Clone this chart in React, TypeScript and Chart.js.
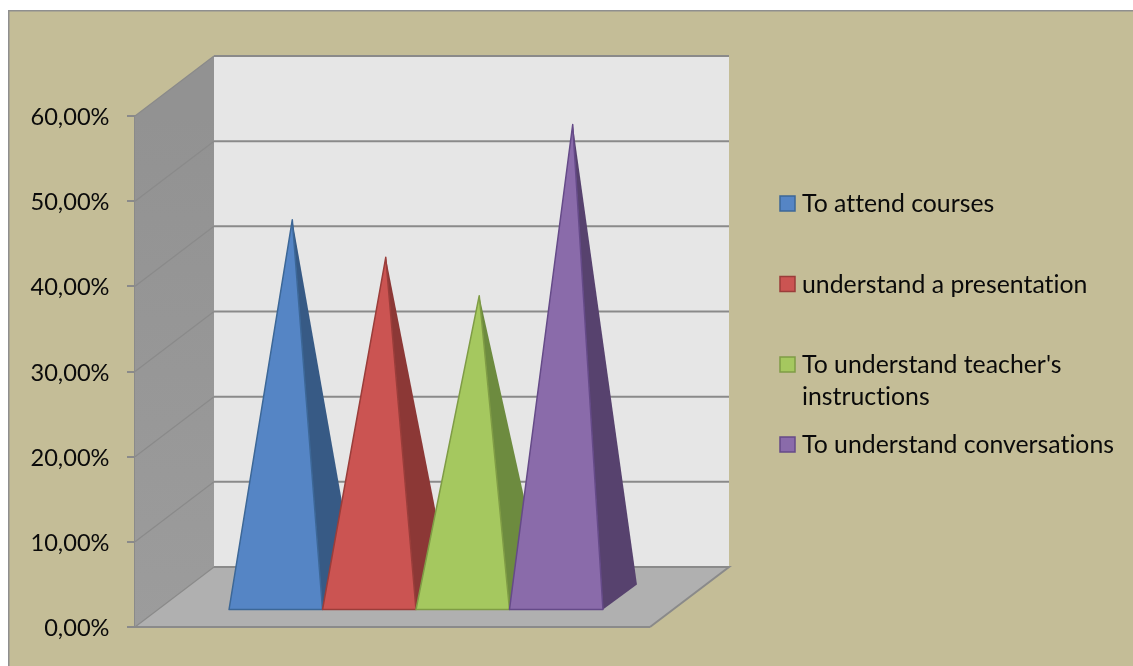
import React, { useEffect, useRef } from "react";
import { Chart, registerables } from "chart.js";

Chart.register(...registerables);

const categories = [""];
const seriesNames = [
  "To attend courses",
  "understand a presentation",
  "To understand teacher's instructions",
  "To understand conversations",
];
const attendCourses = [44.4];
const understandPresentation = [40.0];
const teacherInstructions = [35.5];
const understandConversations = [55.6];
const faceColors = ["#5585C5", "#CB5452", "#A5C85F", "#8A6BAA"];
const sideColors = ["#375A85", "#8C3836", "#6D8B3F", "#57426E"];
const edgeColors = ["#3C6797", "#9A3D3A", "#7F9C45", "#654A88"];
const yTicks = [0, 10, 20, 30, 40, 50, 60];

const FONT = "Lato, Carlito, sans-serif";
const WALL_DX = 79;
const WALL_DY = -60;
const LINE = "#8A8A8A";

const formatTick = (v: number) => `${v.toFixed(2).replace(".", ",")}%`;

// Floor, side wall and back wall of the 3D box, with gridlines taken from the y scale.
const box3d = {
  id: "box3d",
  beforeDatasetsDraw(chart: any) {
    const { ctx, chartArea: a, scales } = chart;
    const y = scales.y;
    const poly = (pts: number[][], fill: any) => {
      ctx.beginPath();
      pts.forEach(([px, py], i) => (i ? ctx.lineTo(px, py) : ctx.moveTo(px, py)));
      ctx.closePath();
      ctx.fillStyle = fill;
      ctx.fill();
    };
    const { left: l, right: r, top: t, bottom: b } = a;
    ctx.save();
    poly(
      [[l + WALL_DX, t + WALL_DY], [r + WALL_DX, t + WALL_DY], [r + WALL_DX, b + WALL_DY], [l + WALL_DX, b + WALL_DY]],
      "#E6E6E6"
    );
    const grad = ctx.createLinearGradient(0, t, 0, b);
    grad.addColorStop(0, "#929292");
    grad.addColorStop(1, "#9C9C9C");
    poly([[l, t], [l + WALL_DX, t + WALL_DY], [l + WALL_DX, b + WALL_DY], [l, b]], grad);
    poly([[l, b], [l + WALL_DX, b + WALL_DY], [r + WALL_DX, b + WALL_DY], [r, b]], "#B0B0B0");

    ctx.strokeStyle = LINE;
    yTicks.forEach((v) => {
      const py = y.getPixelForValue(v);
      const edge = v === 0 || v === 60;
      if (!edge) {
        ctx.lineWidth = 2;
        ctx.beginPath();
        ctx.moveTo(l + WALL_DX, py + WALL_DY);
        ctx.lineTo(r + WALL_DX, py + WALL_DY);
        ctx.stroke();
      }
      ctx.lineWidth = 1.2;
      ctx.beginPath();
      ctx.moveTo(l, py);
      ctx.lineTo(l + WALL_DX, py + WALL_DY);
      ctx.stroke();
    });
    // Box outline
    ctx.lineWidth = 2;
    ctx.beginPath();
    ctx.moveTo(l + WALL_DX, t + WALL_DY);
    ctx.lineTo(r + WALL_DX, t + WALL_DY);
    ctx.moveTo(l + WALL_DX, b + WALL_DY);
    ctx.lineTo(r + WALL_DX, b + WALL_DY);
    ctx.lineTo(r, b);
    ctx.moveTo(l, b);
    ctx.lineTo(r, b);
    ctx.stroke();
    ctx.restore();
  },
};

// Draws each bar element as a pyramid standing on the floor of the box.
const pyramids = {
  id: "pyramids",
  afterDatasetsDraw(chart: any) {
    const { ctx } = chart;
    const dx = 23.5;
    const dy = -16.5;
    const depthX = 34;
    const depthY = -25;
    ctx.save();
    ctx.lineJoin = "round";
    chart.data.datasets.forEach((_: any, i: number) => {
      const bar = chart.getDatasetMeta(i).data[0];
      const x0 = bar.x - bar.width / 2 + dx;
      const x1 = bar.x + bar.width / 2 + dx;
      const by = bar.base + dy;
      const apexX = (x0 + x1) / 2 + depthX / 2 - 0.5;
      const apexY = bar.y + dy + depthY / 2;

      ctx.beginPath();
      ctx.moveTo(x1, by);
      ctx.lineTo(x1 + depthX, by + depthY);
      ctx.lineTo(apexX, apexY);
      ctx.closePath();
      ctx.fillStyle = sideColors[i];
      ctx.fill();

      ctx.beginPath();
      ctx.moveTo(x0, by);
      ctx.lineTo(x1, by);
      ctx.lineTo(apexX, apexY);
      ctx.closePath();
      ctx.fillStyle = faceColors[i];
      ctx.fill();
      ctx.strokeStyle = edgeColors[i];
      ctx.lineWidth = 1.5;
      ctx.stroke();
    });
    ctx.restore();
  },
};

// Outer frame behind everything, value labels beside the axis and the legend column.
const frameAndLegend = {
  id: "frameAndLegend",
  beforeDraw(chart: any) {
    const { ctx, width, height } = chart;
    ctx.save();
    ctx.fillStyle = "#FFFFFF";
    ctx.fillRect(0, 0, width, height);
    ctx.fillStyle = "#C4BD97";
    ctx.fillRect(8, 10, width - 8, height - 10);
    ctx.fillStyle = "#8F8F8F";
    ctx.fillRect(8, 10, width - 8, 1.5);
    ctx.fillRect(8, 10, 1.5, height - 10);
    ctx.restore();
  },
  afterDraw(chart: any) {
    const { ctx, scales } = chart;
    const rows = [
      { y: 204, lines: [seriesNames[0]] },
      { y: 284.5, lines: [seriesNames[1]] },
      { y: 365, lines: ["To understand teacher's", "instructions"] },
      { y: 445, lines: [seriesNames[3]] },
    ];
    ctx.save();
    ctx.textBaseline = "middle";
    ctx.fillStyle = "#0A0A0A";
    ctx.textAlign = "right";
    ctx.font = `23.6px ${FONT}`;
    // A tiny spacing keeps the "tt" and "ti" letter pairs from joining into ligatures.
    ctx.letterSpacing = "0.01px";
    yTicks.forEach((v) => {
      ctx.fillText(formatTick(v), 109.5, scales.y.getPixelForValue(v) + 1.5);
    });
    ctx.font = `24.8px ${FONT}`;
    ctx.textAlign = "left";
    rows.forEach((row, i) => {
      ctx.fillStyle = faceColors[i];
      ctx.fillRect(780, row.y - 8, 15, 15);
      ctx.strokeStyle = edgeColors[i];
      ctx.lineWidth = 1.5;
      ctx.strokeRect(780, row.y - 8, 15, 15);
      ctx.fillStyle = "#0A0A0A";
      row.lines.forEach((text, k) => ctx.fillText(text, 802, row.y + 0.5 + k * 32));
    });
    ctx.restore();
  },
};

export default function App() {
  const ref = useRef<HTMLCanvasElement | null>(null);

  useEffect(() => {
    document.body.style.margin = "0";
    const values = [attendCourses, understandPresentation, teacherInstructions, understandConversations];
    const chart = new Chart(ref.current!, {
      type: "bar",
      data: {
        labels: categories,
        datasets: seriesNames.map((label, i) => ({
          label,
          data: values[i],
          backgroundColor: "rgba(0,0,0,0)",
          borderWidth: 0,
          categoryPercentage: 0.726,
          barPercentage: 1,
        })),
      },
      options: {
        animation: false,
        responsive: false,
        layout: { padding: { left: 0, top: 116, right: 483, bottom: 39 } },
        plugins: { legend: { display: false }, tooltip: { enabled: false }, title: { display: false } },
        scales: {
          x: { display: false },
          y: {
            min: 0,
            max: 60,
            afterFit: (s: any) => {
              s.width = 135;
            },
            afterBuildTicks: (s: any) => {
              s.ticks = yTicks.map((value) => ({ value }));
            },
            border: { display: true, color: LINE, width: 2 },
            grid: { drawOnChartArea: false, drawTicks: true, tickLength: 8, color: LINE, lineWidth: 2 },
            ticks: { display: false },
          },
        },
      },
      plugins: [frameAndLegend, box3d, pyramids],
    });
    return () => chart.destroy();
  }, []);

  return <canvas ref={ref} width={1133} height={666} style={{ display: "block" }} />;
}
